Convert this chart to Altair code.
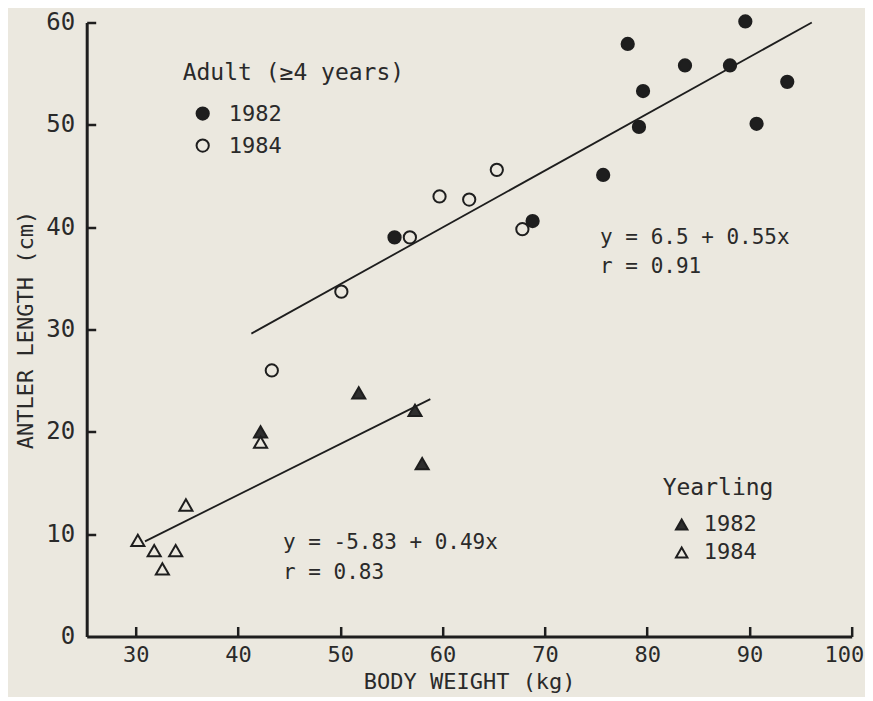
import altair as alt
import pandas as pd

INK = "#1e1e1e"
TXT = "#2a2a2a"
BG = "#ebe8df"
FONT = "DejaVu Sans Mono"

# ---- data ----
# Adult (>=4 years)
adult_1982_weight = [78.1, 89.6, 83.7, 88.1, 93.7, 79.6, 79.2, 90.7, 75.7, 68.8, 55.3]
adult_1982_antler = [57.9, 60.1, 55.8, 55.8, 54.2, 53.3, 49.8, 50.1, 45.1, 40.6, 39.0]
adult_1984_weight = [65.3, 59.7, 62.6, 56.8, 67.8, 50.1, 43.3]
adult_1984_antler = [45.6, 43.0, 42.7, 39.0, 39.8, 33.7, 26.0]
# Yearling
yearling_1982_weight = [51.8, 57.3, 58.0, 42.2]
yearling_1982_antler = [23.8, 22.1, 16.9, 20.0]
yearling_1984_weight = [42.2, 34.9, 30.2, 31.8, 33.9, 32.6]
yearling_1984_antler = [19.0, 12.85, 9.4, 8.4, 8.4, 6.6]

# regression lines (end points)
line_group = ["Adult", "Adult", "Yearling", "Yearling"]
line_weight = [41.3, 96.1, 30.9, 58.8]
line_antler = [29.6, 60.0, 9.3, 23.2]

# equation annotations
note_text = ["y = 6.5 + 0.55x", "r = 0.91", "y = -5.83 + 0.49x", "r = 0.83"]
note_weight = [75.4, 75.4, 44.4, 44.4]
note_antler = [38.9, 36.1, 9.1, 6.2]

x_ticks = [30, 40, 50, 60, 70, 80, 90, 100]
y_ticks = [0, 10, 20, 30, 40, 50, 60]
y_inner_ticks = [10, 20, 30, 40, 50, 60]

# ---- tables ----
df_adult = pd.DataFrame({
    "weight": adult_1982_weight + adult_1984_weight,
    "antler": adult_1982_antler + adult_1984_antler,
    "year": ["1982"] * len(adult_1982_weight) + ["1984"] * len(adult_1984_weight),
})
df_year = pd.DataFrame({
    "weight": yearling_1982_weight + yearling_1984_weight,
    "antler": yearling_1982_antler + yearling_1984_antler,
    "year": ["1982"] * len(yearling_1982_weight) + ["1984"] * len(yearling_1984_weight),
})
df_lines = pd.DataFrame({"group": line_group, "weight": line_weight, "antler": line_antler})
df_notes = pd.DataFrame({"note": note_text, "weight": note_weight, "antler": note_antler})

W, H = 765, 614
xs = alt.Scale(domain=[25.2, 100], nice=False, zero=False)
ys = alt.Scale(domain=[0, 60], nice=False, zero=False)

x_main = alt.Axis(
    title="BODY WEIGHT (kg)", values=x_ticks, grid=False, ticks=False, tickSize=0,
    domainColor=INK, domainWidth=3, labelPadding=8, labelFont=FONT, labelFontSize=22,
    labelColor=TXT, labelFlush=True, labelFlushOffset=12, titleFont=FONT,
    titleFontSize=22, titleFontWeight="normal", titleColor=TXT, titlePadding=6,
)
y_main = alt.Axis(
    title="ANTLER LENGTH (cm)", values=y_ticks, grid=False, ticks=False, tickSize=0,
    domainColor=INK, domainWidth=3, labelPadding=12, labelFont=FONT, labelFontSize=24,
    labelColor=TXT, labelFlush=False, titleFont=FONT, titleFontSize=22,
    titleFontWeight="normal", titleColor=TXT, titlePadding=8,
)

adult = alt.Chart(df_adult).mark_point(
    shape="circle", filled=True, size=150, stroke=INK, strokeWidth=2, opacity=1
).encode(
    x=alt.X("weight:Q", scale=xs, axis=x_main),
    y=alt.Y("antler:Q", scale=ys, axis=y_main),
    fill=alt.Fill(
        "year:N",
        scale=alt.Scale(domain=["1982", "1984"], range=[INK, BG]),
        legend=alt.Legend(
            title="Adult (≥4 years)", orient="none", legendX=96, legendY=39,
            direction="vertical", symbolType="circle", symbolSize=150,
            symbolStrokeColor=INK, symbolStrokeWidth=2, symbolOffset=9,
            labelOffset=15, labelFont=FONT, labelFontSize=22, labelColor=TXT,
            titleFont=FONT, titleFontSize=23, titleFontWeight="normal",
            titleColor=TXT, titleLimit=400, titlePadding=18, rowPadding=10,
            padding=0,
        ),
    ),
)

yearling = alt.Chart(df_year).mark_point(
    shape="triangle-up", filled=True, size=170, stroke=INK, strokeWidth=2, opacity=1
).encode(
    x=alt.X("weight:Q", scale=xs, axis=None),
    y=alt.Y("antler:Q", scale=ys, axis=None),
    fill=alt.Fill(
        "year:N",
        scale=alt.Scale(domain=["1982", "1984"], range=["#2e2e2e", BG]),
        legend=alt.Legend(
            title="Yearling", orient="none", legendX=576, legendY=455,
            direction="vertical", symbolType="triangle-up", symbolSize=130,
            symbolStrokeColor=INK, symbolStrokeWidth=2, symbolOffset=8,
            labelOffset=11, labelFont=FONT, labelFontSize=22, labelColor=TXT,
            titleFont=FONT, titleFontSize=23, titleFontWeight="normal",
            titleColor=TXT, titleLimit=400, titlePadding=13, rowPadding=6,
            padding=0,
        ),
    ),
)

lines = alt.Chart(df_lines).mark_line(color=INK, strokeWidth=1.8).encode(
    x=alt.X("weight:Q", scale=xs, axis=alt.Axis(
        orient="top", offset=-H, values=x_ticks, labels=False, domain=False,
        grid=False, ticks=True, tickSize=10, tickWidth=2.5, tickColor=INK, title=None)),
    y=alt.Y("antler:Q", scale=ys, axis=alt.Axis(
        orient="right", offset=-W, values=y_inner_ticks, labels=False, domain=False,
        grid=False, ticks=True, tickSize=9, tickWidth=2.5, tickColor=INK, title=None)),
    detail="group:N",
)

notes = alt.Chart(df_notes).mark_text(
    align="left", baseline="middle", font=FONT, fontSize=21, color=TXT
).encode(
    x=alt.X("weight:Q", scale=xs, axis=None),
    y=alt.Y("antler:Q", scale=ys, axis=None),
    text="note:N",
)

chart = alt.layer(adult, yearling, lines, notes).resolve_scale(
    fill="independent"
).resolve_axis(
    x="independent", y="independent"
).properties(
    width=W, height=H,
    autosize=alt.AutoSizeParams(type="none"),
    padding={"left": 78.7, "top": 14.5, "right": 13, "bottom": 60},
    background=BG,
).configure_view(stroke="transparent")

chart.save("out.html", embed_options={"renderer": "svg", "actions": False})
